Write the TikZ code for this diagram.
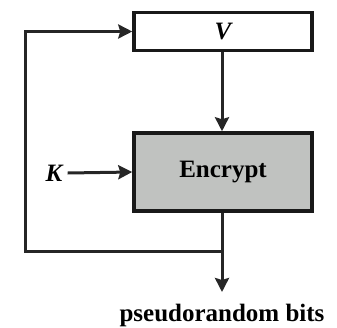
\documentclass[tikz,border=0pt]{standalone}
\usepackage{fontspec}
\setmainfont{Liberation Serif}
\usetikzlibrary{arrows.meta}
\begin{document}
\begin{tikzpicture}[x=1pt,y=-1pt,
  box/.style={draw=black!90,line width=3.5pt,minimum width=178pt,inner sep=0pt,font=\fontsize{25}{28}\selectfont\bfseries},
  conn/.style={line width=3pt,draw=black!85,-{Stealth[length=14pt,width=14pt,inset=2pt]}},
  line/.style={line width=3pt,draw=black!85},
  lbl/.style={font=\fontsize{25}{28}\selectfont\bfseries,inner sep=0pt}]
\useasboundingbox (0,0) rectangle (337,327);
\node[box,minimum height=38pt] (V) at (223,31.5) {\itshape V};
\node[box,minimum height=78pt,fill={rgb,255:red,192;green,194;blue,192}] (E) at (223,172) {Encrypt};
\node[lbl] (K) at (54,173) {\itshape K};
\coordinate (j) at (222,251);
\coordinate (c) at (25,251);
\coordinate (out) at (222,292);
\node[lbl,anchor=base] (pb) at (222,321) {pseudorandom bits};
\draw[conn] (V.south -| j) -- (E.north -| j);
\draw[conn] (K.east) ++(5pt,0) -- (E.west);
\draw[line] (E.south -| j) -- (j);
\draw[conn] (j) -- (out);
\draw[conn] (j) -- (c) |- (V.west);
\end{tikzpicture}
\end{document}
